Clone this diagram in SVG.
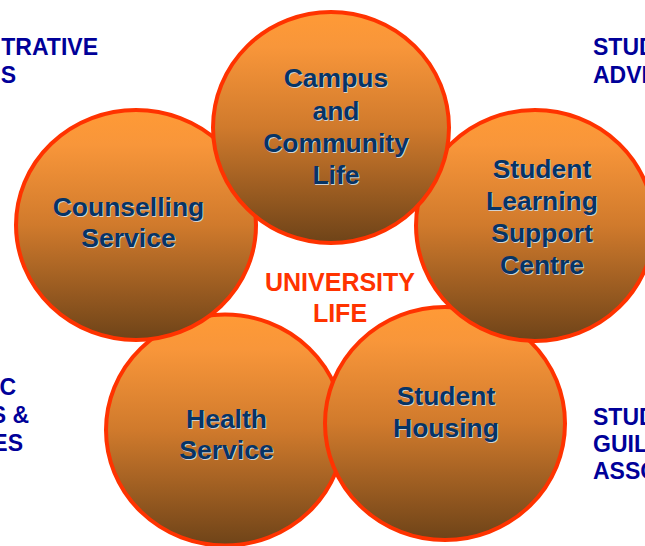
<svg xmlns="http://www.w3.org/2000/svg" width="645" height="546" viewBox="0 0 645 546">
  <defs>
    <linearGradient id="orb" x1="0" y1="0" x2="0" y2="1">
      <stop offset="0" stop-color="#FF9A36"/>
      <stop offset="0.15" stop-color="#F8963A"/>
      <stop offset="0.5" stop-color="#D07A2C"/>
      <stop offset="1" stop-color="#6E4318"/>
    </linearGradient>
  </defs>
  <style>
    .orb { fill: url(#orb); stroke: #FF3300; stroke-width: 4; }
    .lbl { font-family: "Liberation Sans", Arial, sans-serif; font-weight: bold; font-size: 26.5px; text-anchor: middle; fill: #063465; }
    .sh { fill: #D2D2D2; }
    .side { font-family: "Liberation Sans", Arial, sans-serif; font-weight: bold; font-size: 23px; fill: #000099; }
    .center { font-family: "Liberation Sans", Arial, sans-serif; font-weight: bold; font-size: 25px; text-anchor: middle; fill: #FF3300; }
  </style>
  <rect width="645" height="546" fill="#FFFFFF"/>

  <g id="side-labels">
    <text class="side" text-anchor="end"><tspan x="98" y="55">TRATIVE</tspan><tspan x="16" y="83">S</tspan></text>
    <text class="side"><tspan x="593" y="55">STUD</tspan><tspan x="593" y="83">ADVI</tspan></text>
    <text class="side" text-anchor="end"><tspan x="16" y="395">C</tspan><tspan x="29" y="423">S &amp;</tspan><tspan x="23" y="451">ES</tspan></text>
    <text class="side"><tspan x="593" y="425">STUD</tspan><tspan x="593" y="452">GUIL</tspan><tspan x="593" y="479">ASSO</tspan></text>
  </g>

  <g id="connectors"></g>

  <g id="health">
    <ellipse class="orb" cx="225" cy="430" rx="119" ry="115.5"/>
    <text class="lbl sh" x="227.5" y="429.2">Health</text>
    <text class="lbl sh" x="227.5" y="460.2">Service</text>
    <text class="lbl" x="226.5" y="428">Health</text>
    <text class="lbl" x="226.5" y="459">Service</text>
  </g>

  <g id="housing">
    <ellipse class="orb" cx="445" cy="423.5" rx="120" ry="116.5"/>
    <text class="lbl sh" x="447" y="406.2">Student</text>
    <text class="lbl sh" x="447" y="438.2">Housing</text>
    <text class="lbl" x="446" y="405">Student</text>
    <text class="lbl" x="446" y="437">Housing</text>
  </g>

  <g id="counselling">
    <ellipse class="orb" cx="136" cy="225" rx="120" ry="115"/>
    <text class="lbl sh" x="129.5" y="217.2">Counselling</text>
    <text class="lbl sh" x="129.5" y="248.2">Service</text>
    <text class="lbl" x="128.5" y="216">Counselling</text>
    <text class="lbl" x="128.5" y="247">Service</text>
  </g>

  <g id="learning">
    <ellipse class="orb" cx="535" cy="225.5" rx="119" ry="115.5"/>
    <text class="lbl sh" x="543" y="179.2">Student</text>
    <text class="lbl sh" x="543" y="211.2">Learning</text>
    <text class="lbl sh" x="543" y="243.2">Support</text>
    <text class="lbl sh" x="543" y="275.2">Centre</text>
    <text class="lbl" x="542" y="178">Student</text>
    <text class="lbl" x="542" y="210">Learning</text>
    <text class="lbl" x="542" y="242">Support</text>
    <text class="lbl" x="542" y="274">Centre</text>
  </g>

  <g id="campus">
    <ellipse class="orb" cx="331" cy="127.5" rx="118" ry="115.5"/>
    <text class="lbl sh" x="337" y="88.2">Campus</text>
    <text class="lbl sh" x="337" y="121.2">and</text>
    <text class="lbl sh" x="337" y="153.2">Community</text>
    <text class="lbl sh" x="337" y="185.2">Life</text>
    <text class="lbl" x="336" y="87">Campus</text>
    <text class="lbl" x="336" y="120">and</text>
    <text class="lbl" x="336" y="152">Community</text>
    <text class="lbl" x="336" y="184">Life</text>
  </g>

  <g id="university-life">
    <text class="center" x="340" y="291">UNIVERSITY</text>
    <text class="center" x="340" y="322">LIFE</text>
  </g>
</svg>
